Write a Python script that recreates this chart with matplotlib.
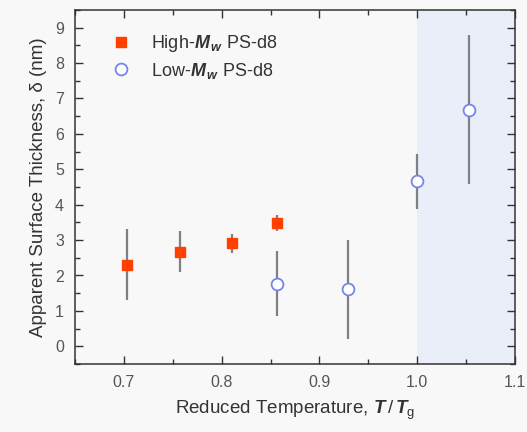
import matplotlib
matplotlib.use("Agg")
import matplotlib.pyplot as plt
from matplotlib.ticker import MultipleLocator, FormatStrFormatter
from matplotlib.lines import Line2D

plt.rcParams['font.family'] = ['Liberation Sans', 'DejaVu Sans']
plt.rcParams['mathtext.fontset'] = 'custom'
plt.rcParams['mathtext.it'] = 'Liberation Sans:italic:bold'
plt.rcParams['mathtext.rm'] = 'Liberation Sans'

# High-Mw PS-d8
high_t = [0.703, 0.757, 0.811, 0.857]
high_delta = [2.30, 2.67, 2.91, 3.48]
high_err = [1.00, 0.58, 0.27, 0.23]

# Low-Mw PS-d8
low_t = [0.857, 0.929, 1.000, 1.053]
low_delta = [1.77, 1.61, 4.66, 6.68]
low_err = [0.91, 1.40, 0.78, 2.10]

high_label = r'High-$\mathit{M}_{\,\mathit{w}}$ PS-d8'
low_label = r'Low-$\mathit{M}_{\,\mathit{w}}$ PS-d8'

bg = '#f8f8f8'
orange = '#ff4000'
blue = '#7586ea'
err_c = '#808080'

fig = plt.figure(figsize=(5.27, 4.32), dpi=100, facecolor=bg)
ax = fig.add_axes([75/527, 1 - 364/432, 440/527, 354/432])
ax.set_facecolor(bg)

ax.axvspan(1.0, 1.1, color='#e9eef8', zorder=0, lw=0)

ax.errorbar(high_t, high_delta, yerr=high_err, fmt='s', color=orange,
            markersize=7.5, ecolor=err_c, elinewidth=1.6, capsize=0, zorder=3)
ax.errorbar(low_t, low_delta, yerr=low_err, fmt='o', markerfacecolor='white',
            markeredgecolor=blue, markeredgewidth=1.3, markersize=8.5,
            ecolor=err_c, elinewidth=1.6, capsize=0, zorder=3)

ax.set_xlim(0.65, 1.1)
ax.set_ylim(-0.5, 9.5)
ax.xaxis.set_major_locator(MultipleLocator(0.1))
ax.xaxis.set_minor_locator(MultipleLocator(0.05))
ax.yaxis.set_major_locator(MultipleLocator(1))
ax.yaxis.set_minor_locator(MultipleLocator(0.5))
ax.tick_params(which='both', direction='in', top=True, right=True,
               colors='#333333', labelcolor='#555555', labelsize=11.5, width=1)
ax.tick_params(which='major', length=6)
ax.tick_params(which='minor', length=3.5)
ax.tick_params(axis='x', pad=8)
ax.tick_params(axis='y', pad=8)
ax.xaxis.set_major_formatter(FormatStrFormatter('%.1f'))
for s in ax.spines.values():
    s.set_color('#333333')
    s.set_linewidth(1.1)

ax.set_xlabel(r'Reduced Temperature, $\mathit{T}\,/\,\mathit{T}_{\rm g}$',
              fontsize=13.5, color='#333333', labelpad=6)
ax.set_ylabel('Apparent Surface Thickness, δ (nm)',
              fontsize=13.5, color='#333333', labelpad=6)

handles = [
    Line2D([], [], ls='none', marker='s', color=orange, markersize=7.5),
    Line2D([], [], ls='none', marker='o', markerfacecolor='white',
           markeredgecolor=blue, markeredgewidth=1.3, markersize=8.5),
]
leg = ax.legend(handles, [high_label, low_label], loc='upper left',
                bbox_to_anchor=(0.03, 0.985), frameon=False,
                fontsize=13, handletextpad=0.9, labelspacing=0.35,
                borderaxespad=0.6, handlelength=1.6)
for t in leg.get_texts():
    t.set_color('#333333')

fig.savefig('out.png', dpi=100, facecolor=bg)
